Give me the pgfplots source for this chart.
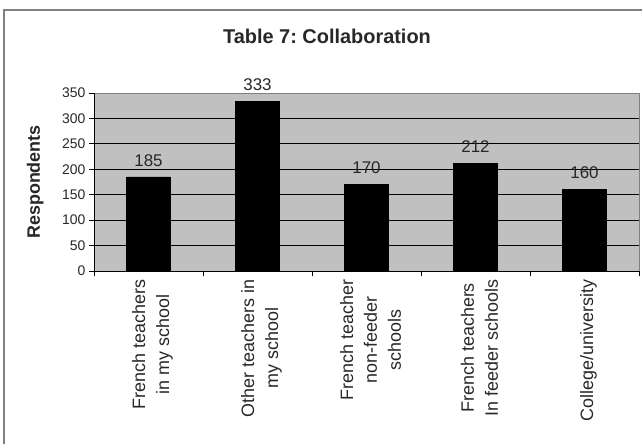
\documentclass[border=0pt]{standalone}
\usepackage{fontspec}
\setmainfont{Liberation Sans}
\usepackage{pgfplots}
\pgfplotsset{compat=1.18}
\frenchspacing
\definecolor{plotgray}{RGB}{192,192,192}
\definecolor{framegray}{RGB}{128,128,128}
\definecolor{labelgray}{RGB}{40,40,40}
\begin{document}
\begin{tikzpicture}
\useasboundingbox (0,0) rectangle (642bp,444bp);
\fill[white] (0,0) rectangle (642bp,444bp);
\draw[framegray, line width=2bp] (4bp,0) -- (4bp,434bp) -- (642bp,434bp);
\node[font=\bfseries\fontsize{20}{24}\selectfont, text=labelgray] at (327bp,408bp) {Table 7: Collaboration};
\begin{axis}[
  at={(94bp,173bp)}, anchor=south west,
  scale only axis, width=545bp, height=178bp,
  /pgf/number format/assume math mode=true,
  xmin=-0.5, xmax=4.5, ymin=0, ymax=350,
  axis x line*=bottom, axis y line*=left,
  axis line style={black, line width=0.8bp},
  axis background/.style={fill=plotgray, draw=framegray, line width=0.8bp},
  xtick={0,1,2,3,4},
  xticklabels={{French teachers\\in my school},{Other teachers in\\my school},{French teacher\\non-feeder\\schools},{French teachers\\In feeder schools},{College/university}},
  major x tick style={draw=none},
  minor xtick={-0.5,0.5,1.5,2.5,3.5,4.5},
  minor x tick style={black, line width=0.8bp},
  minor tick length=5bp,
  ytick={0,50,...,350},
  major tick length=5bp,
  tick align=outside,
  y tick style={black, line width=0.8bp},
  extra y ticks={50,100,150,200,250,300},
  extra y tick labels={},
  extra y tick style={grid=major, major tick length=0pt},
  major grid style={black, line width=1.1bp},
  xticklabel style={rotate=90, anchor=east, align=center, font=\fontsize{18}{24}\selectfont, text=labelgray, yshift=-4bp},
  yticklabel style={font=\fontsize{14}{16}\selectfont, text=labelgray},
  ylabel={\textbf{Respondents}},
  ylabel style={font=\fontsize{18}{21}\selectfont, text=labelgray, at={(axis description cs:-0.108,0.5)}, anchor=center, rotate=0},
  ybar, bar width=44bp,
  nodes near coords,
  every node near coord/.append style={font=\fontsize{17}{20}\selectfont, text=labelgray, yshift=7bp},
]
\addplot[fill=black, draw=black] coordinates {(0,185) (1,333) (2,170) (3,212) (4,160)};
\end{axis}
\end{tikzpicture}
\end{document}
